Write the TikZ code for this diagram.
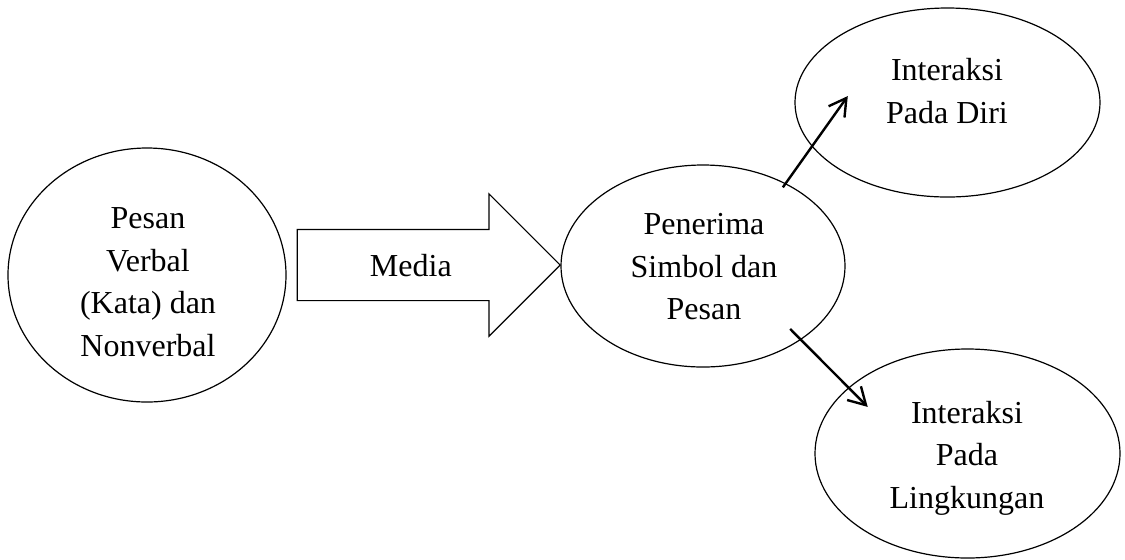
\documentclass[tikz,border=0pt]{standalone}
\usepackage{fontspec}
\setmainfont{Liberation Serif}
\usetikzlibrary{shapes.geometric,shapes.arrows,arrows.meta}

\begin{document}
\begin{tikzpicture}[x=0.5pt, y=-0.5pt,
    oval/.style={draw, ellipse, line width=0.6pt, inner sep=0pt},
    txt/.style={align=center, font=\fontsize{16}{21.25}\selectfont},
    flow/.style={-{Straight Barb[length=8.5pt, width=9.75pt]}, line width=1.2pt}]
    \useasboundingbox (0,0) rectangle (1125,559);
    % Ellipses
    \node[oval, minimum width=139pt, minimum height=127pt] (pesan) at (147,275) {};
    \node[oval, minimum width=142pt, minimum height=101pt] (penerima) at (703,266) {};
    \node[oval, minimum width=152.5pt, minimum height=94.5pt] (diri) at (947.5,102.5) {};
    \node[oval, minimum width=152.5pt, minimum height=104.5pt] (lingkungan) at (967.5,453.5) {};
    % Texts
    \node[txt] (pesantxt) at (148,282) {Pesan\\Verbal\\(Kata) dan\\Nonverbal};
    \node[txt] (penerimatxt) at (704,267) {Penerima\\Simbol dan\\Pesan};
    \node[txt] (diritxt) at (947,91) {Interaksi\\Pada Diri};
    \node[txt] (lingkungantxt) at (967,458) {Interaksi\\Pada\\Lingkungan};
    % Media
    \node[single arrow, draw, line width=0.6pt, txt, text height=11pt, text depth=0pt,
        inner xsep=0pt, inner ysep=12pt, single arrow head extend=17.75pt,
        minimum height=131.5pt, minimum width=70.5pt, anchor=tip] (media) at (561,265) {Media};
    % Arrows
    \draw[flow, shorten <=-2.5pt, shorten >=-31pt] (penerima.45) -- (diri.198);
    \draw[flow, shorten <=-7.7pt, shorten >=-13.7pt] (penerima.323) -- (lingkungan.151);
\end{tikzpicture}
\end{document}
